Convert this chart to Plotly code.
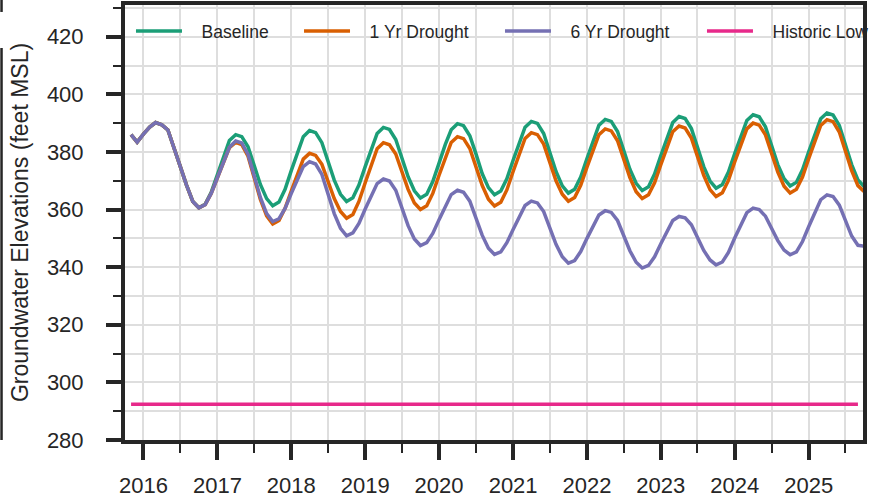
import pandas as pd
import plotly.graph_objects as go

dates = pd.date_range("2015-11-01", "2025-10-01", freq="MS")

baseline = [
    386.0, 383.4,
    386.2, 388.6, 390.2, 389.4, 387.6, 381.5, 375.0, 368.5, 362.8, 360.6, 361.8, 366.0,
    372.5, 378.9, 384.0, 386.0, 385.3, 381.8, 375.6, 368.7, 363.8, 361.3, 362.6, 367.0,
    373.6, 380.1, 385.3, 387.4, 386.7, 383.2, 377.1, 370.2, 365.3, 362.8, 364.1, 368.5,
    374.9, 381.3, 386.4, 388.5, 387.8, 384.3, 378.2, 371.4, 366.5, 364.0, 365.3, 369.7,
    376.1, 382.6, 387.7, 389.8, 389.1, 385.6, 379.4, 372.5, 367.6, 365.1, 366.4, 370.7,
    377.1, 383.5, 388.6, 390.6, 389.9, 386.4, 380.1, 373.2, 368.2, 365.7, 367.0, 371.3,
    377.7, 384.1, 389.3, 391.3, 390.6, 387.1, 380.9, 374.0, 369.1, 366.6, 367.9, 372.3,
    378.7, 385.1, 390.2, 392.3, 391.6, 388.1, 381.8, 374.9, 369.9, 367.4, 368.7, 373.0,
    379.4, 385.8, 390.9, 392.9, 392.2, 388.7, 382.5, 375.6, 370.7, 368.2, 369.5, 373.8,
    380.1, 386.4, 391.5, 393.5, 392.8, 389.2, 382.8, 375.6, 370.3, 368.0,
]

drought_1yr = [
    386.0, 383.4,
    386.2, 388.6, 390.2, 389.4, 387.6, 381.5, 375.0, 368.5, 362.8, 360.6, 361.7, 365.6,
    371.3, 377.0, 381.5, 383.3, 382.5, 378.5, 371.4, 363.5, 357.8, 355.0, 356.2, 360.4,
    366.5, 372.6, 377.5, 379.5, 378.8, 375.7, 370.1, 363.8, 359.3, 357.0, 358.3, 362.8,
    369.3, 375.9, 381.1, 383.2, 382.5, 379.3, 373.5, 367.0, 362.3, 360.0, 361.3, 365.6,
    371.9, 378.2, 383.3, 385.3, 384.6, 381.2, 375.2, 368.4, 363.6, 361.2, 362.5, 366.8,
    373.2, 379.6, 384.7, 386.7, 386.0, 382.7, 376.7, 370.0, 365.3, 362.9, 364.2, 368.4,
    374.7, 381.0, 386.0, 388.0, 387.3, 383.9, 377.9, 371.1, 366.2, 363.8, 365.1, 369.3,
    375.6, 381.9, 387.0, 389.0, 388.3, 384.8, 378.7, 371.9, 366.9, 364.5, 365.8, 370.1,
    376.5, 382.9, 388.0, 390.0, 389.3, 385.9, 379.8, 373.0, 368.1, 365.7, 367.0, 371.3,
    377.7, 384.1, 389.2, 391.2, 390.5, 386.9, 380.5, 373.5, 368.3, 366.3,
]

drought_6yr = [
    386.0, 383.4,
    386.2, 388.6, 390.2, 389.4, 387.6, 381.5, 375.0, 368.5, 362.8, 360.6, 361.7, 365.6,
    371.3, 377.0, 381.6, 383.8, 383.1, 379.1, 372.1, 364.2, 358.6, 355.8, 356.8, 360.4,
    365.6, 370.8, 374.9, 376.6, 375.8, 372.2, 365.8, 358.6, 353.5, 350.9, 351.9, 355.2,
    360.2, 365.1, 369.0, 370.6, 369.9, 366.7, 360.9, 354.4, 349.8, 347.5, 348.5, 351.7,
    356.5, 361.3, 365.2, 366.7, 366.0, 362.9, 357.3, 351.1, 346.6, 344.4, 345.3, 348.5,
    353.1, 357.7, 361.4, 362.9, 362.3, 359.3, 353.9, 347.9, 343.6, 341.4, 342.3, 345.4,
    350.0, 354.5, 358.1, 359.6, 359.0, 356.2, 351.2, 345.7, 341.7, 339.7, 340.6, 343.6,
    348.1, 352.6, 356.2, 357.6, 357.1, 354.7, 350.5, 345.8, 342.5, 340.8, 341.8, 345.1,
    350.1, 355.0, 358.9, 360.5, 360.0, 357.7, 353.7, 349.2, 345.9, 344.3, 345.3, 348.9,
    354.1, 359.3, 363.4, 365.1, 364.5, 361.5, 356.3, 350.8, 347.6, 347.3,
]

historic_dates = ["2015-11-01", "2025-09-01"]
historic_low = [292.4, 292.4]

series_names = ["Baseline", "1 Yr Drought", "6 Yr Drought", "Historic Low"]
colors = ["#1b9e77", "#d95f02", "#7570b3", "#e7298a"]
legend_ids = ["legend", "legend2", "legend3", "legend4"]
legend_x = [0.0081, 0.2358, 0.5081, 0.7818]

FONT = "Liberation Sans, Arial, sans-serif"
INK = "#262626"
GRID = "#dedede"
LEAD = "\u00a0\u00a0\u00a0"

fig = go.Figure()
for name, vals, col, lg in zip(series_names[:3], [baseline, drought_1yr, drought_6yr],
                               colors[:3], legend_ids[:3]):
    fig.add_trace(go.Scatter(x=dates, y=vals, mode="lines", name=LEAD + name, legend=lg,
                             line=dict(color=col, width=3.5)))
fig.add_trace(go.Scatter(x=pd.to_datetime(historic_dates), y=historic_low, mode="lines",
                         name=LEAD + series_names[3], legend=legend_ids[3],
                         line=dict(color=colors[3], width=3.5)))

layout_legends = {}
for lg, lx in zip(legend_ids, legend_x):
    layout_legends[lg] = dict(orientation="h", x=lx, y=0.94, xanchor="left", yanchor="middle",
                              bgcolor="rgba(0,0,0,0)", font=dict(size=17.5, color=INK),
                              itemwidth=46)

fig.update_layout(
    width=881, height=503,
    margin=dict(l=125, r=18, t=5, b=63, autoexpand=False),
    paper_bgcolor="white", plot_bgcolor="white",
    font=dict(family=FONT, color=INK),
    showlegend=True,
    **layout_legends,
)

fig.update_xaxes(
    type="date", range=["2015-10-02", "2025-09-26"], automargin=False,
    tick0="2016-01-01", dtick="M12", tickformat="%Y",
    ticks="outside", ticklen=16, tickwidth=3.5, tickcolor=INK,
    showline=True, linewidth=4, linecolor=INK, mirror=True,
    showgrid=True, gridcolor=GRID, gridwidth=1.5,
    tickfont=dict(size=22, color=INK), ticklabelstandoff=7,
    minor=dict(tick0="2015-07-01", dtick="M6", ticks="outside", ticklen=9, tickwidth=2,
               tickcolor=INK, showgrid=True, gridcolor=GRID, gridwidth=1.5),
    zeroline=False,
)
fig.update_yaxes(
    range=[280, 431], tick0=280, dtick=20, automargin=False,
    ticks="outside", ticklen=15, tickwidth=3.5, tickcolor=INK,
    showline=True, linewidth=4, linecolor=INK, mirror=True,
    showgrid=True, gridcolor=GRID, gridwidth=1.5,
    tickfont=dict(size=22, color=INK), ticklabelstandoff=18,
    minor=dict(dtick=10, ticks="outside", ticklen=8, tickwidth=2, tickcolor=INK,
               showgrid=True, gridcolor=GRID, gridwidth=1.5),
    title=dict(text="Groundwater Elevations (feet MSL)", font=dict(size=23, color=INK), standoff=13),
    zeroline=False,
)

# white band behind the legend row (hides the gridlines there)
fig.add_shape(type="rect", xref="paper", yref="paper", x0=0, x1=1, y0=0.897, y1=0.977,
              fillcolor="white", line=dict(width=0), layer="between")

# clipped frame edge at the far left of the picture
fig.add_shape(type="line", xref="paper", yref="paper", x0=-0.1673, x1=-0.1673, y0=0, y1=0.901,
              line=dict(color=INK, width=2.5))
fig.add_shape(type="line", xref="paper", yref="paper", x0=-0.1673, x1=-0.1673, y0=0.984, y1=1.02,
              line=dict(color=INK, width=2.5))

fig.write_html("out.html", config={"displayModeBar": False},
               post_script="document.body.style.margin='0px';")
